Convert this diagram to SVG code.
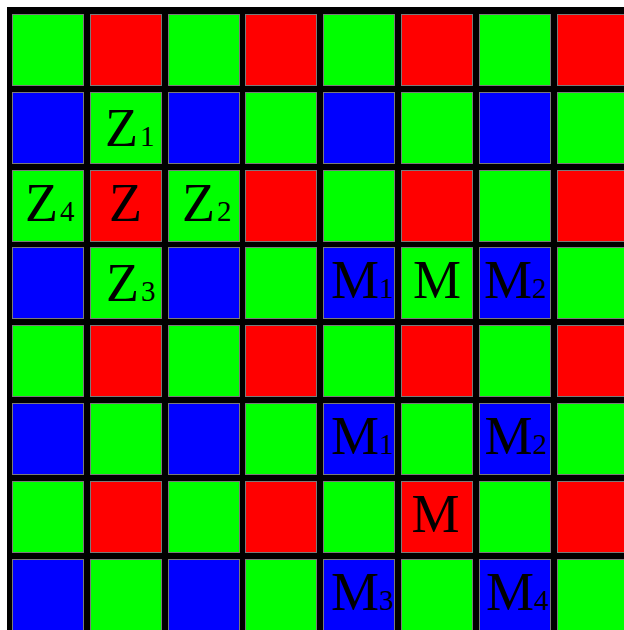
<svg xmlns="http://www.w3.org/2000/svg" width="624" height="630" viewBox="0 0 624 630">
<style>
rect.c{stroke:#7a7a7a;stroke-width:1}
.g{fill:#00ff00}
.r{fill:#ff0000}
.b{fill:#0000ff}
text{font-family:"Liberation Serif","Times New Roman",serif;font-size:54px;fill:#000}
tspan.s{font-size:29px}
</style>
<rect x="0" y="0" width="624" height="630" fill="#ffffff"/>
<rect x="7" y="7" width="617" height="623" fill="#000000"/>
<g id="row0">
<g id="r0c0"><rect class="c g" x="12.5" y="14.5" width="71" height="71"/></g>
<g id="r0c1"><rect class="c r" x="90.5" y="14.5" width="71" height="71"/></g>
<g id="r0c2"><rect class="c g" x="168.5" y="14.5" width="71" height="71"/></g>
<g id="r0c3"><rect class="c r" x="245.5" y="14.5" width="71" height="71"/></g>
<g id="r0c4"><rect class="c g" x="323.5" y="14.5" width="71" height="71"/></g>
<g id="r0c5"><rect class="c r" x="401.5" y="14.5" width="71" height="71"/></g>
<g id="r0c6"><rect class="c g" x="479.5" y="14.5" width="71" height="71"/></g>
<g id="r0c7"><rect class="c r" x="557.5" y="14.5" width="71" height="71"/></g>
</g>
<g id="row1">
<g id="r1c0"><rect class="c b" x="12.5" y="92.5" width="71" height="71"/></g>
<g id="r1c1"><rect class="c g" x="90.5" y="92.5" width="71" height="71"/><text x="105" y="146">Z<tspan class="s" dx="2">1</tspan></text></g>
<g id="r1c2"><rect class="c b" x="168.5" y="92.5" width="71" height="71"/></g>
<g id="r1c3"><rect class="c g" x="245.5" y="92.5" width="71" height="71"/></g>
<g id="r1c4"><rect class="c b" x="323.5" y="92.5" width="71" height="71"/></g>
<g id="r1c5"><rect class="c g" x="401.5" y="92.5" width="71" height="71"/></g>
<g id="r1c6"><rect class="c b" x="479.5" y="92.5" width="71" height="71"/></g>
<g id="r1c7"><rect class="c g" x="557.5" y="92.5" width="71" height="71"/></g>
</g>
<g id="row2">
<g id="r2c0"><rect class="c g" x="12.5" y="170.5" width="71" height="71"/><text x="25" y="221">Z<tspan class="s" dx="2">4</tspan></text></g>
<g id="r2c1"><rect class="c r" x="90.5" y="170.5" width="71" height="71"/><text x="109" y="221">Z</text></g>
<g id="r2c2"><rect class="c g" x="168.5" y="170.5" width="71" height="71"/><text x="182" y="221">Z<tspan class="s" dx="2">2</tspan></text></g>
<g id="r2c3"><rect class="c r" x="245.5" y="170.5" width="71" height="71"/></g>
<g id="r2c4"><rect class="c g" x="323.5" y="170.5" width="71" height="71"/></g>
<g id="r2c5"><rect class="c r" x="401.5" y="170.5" width="71" height="71"/></g>
<g id="r2c6"><rect class="c g" x="479.5" y="170.5" width="71" height="71"/></g>
<g id="r2c7"><rect class="c r" x="557.5" y="170.5" width="71" height="71"/></g>
</g>
<g id="row3">
<g id="r3c0"><rect class="c b" x="12.5" y="247.5" width="71" height="71"/></g>
<g id="r3c1"><rect class="c g" x="90.5" y="247.5" width="71" height="71"/><text x="106" y="301">Z<tspan class="s" dx="2">3</tspan></text></g>
<g id="r3c2"><rect class="c b" x="168.5" y="247.5" width="71" height="71"/></g>
<g id="r3c3"><rect class="c g" x="245.5" y="247.5" width="71" height="71"/></g>
<g id="r3c4"><rect class="c b" x="323.5" y="247.5" width="71" height="71"/><text x="331" y="298">M<tspan class="s" dx="0">1</tspan></text></g>
<g id="r3c5"><rect class="c g" x="401.5" y="247.5" width="71" height="71"/><text x="413" y="297.5">M</text></g>
<g id="r3c6"><rect class="c b" x="479.5" y="247.5" width="71" height="71"/><text x="484" y="297.5">M<tspan class="s" dx="0">2</tspan></text></g>
<g id="r3c7"><rect class="c g" x="557.5" y="247.5" width="71" height="71"/></g>
</g>
<g id="row4">
<g id="r4c0"><rect class="c g" x="12.5" y="325.5" width="71" height="71"/></g>
<g id="r4c1"><rect class="c r" x="90.5" y="325.5" width="71" height="71"/></g>
<g id="r4c2"><rect class="c g" x="168.5" y="325.5" width="71" height="71"/></g>
<g id="r4c3"><rect class="c r" x="245.5" y="325.5" width="71" height="71"/></g>
<g id="r4c4"><rect class="c g" x="323.5" y="325.5" width="71" height="71"/></g>
<g id="r4c5"><rect class="c r" x="401.5" y="325.5" width="71" height="71"/></g>
<g id="r4c6"><rect class="c g" x="479.5" y="325.5" width="71" height="71"/></g>
<g id="r4c7"><rect class="c r" x="557.5" y="325.5" width="71" height="71"/></g>
</g>
<g id="row5">
<g id="r5c0"><rect class="c b" x="12.5" y="403.5" width="71" height="71"/></g>
<g id="r5c1"><rect class="c g" x="90.5" y="403.5" width="71" height="71"/></g>
<g id="r5c2"><rect class="c b" x="168.5" y="403.5" width="71" height="71"/></g>
<g id="r5c3"><rect class="c g" x="245.5" y="403.5" width="71" height="71"/></g>
<g id="r5c4"><rect class="c b" x="323.5" y="403.5" width="71" height="71"/><text x="331" y="453.5">M<tspan class="s" dx="0">1</tspan></text></g>
<g id="r5c5"><rect class="c g" x="401.5" y="403.5" width="71" height="71"/></g>
<g id="r5c6"><rect class="c b" x="479.5" y="403.5" width="71" height="71"/><text x="484.5" y="453.5">M<tspan class="s" dx="0">2</tspan></text></g>
<g id="r5c7"><rect class="c g" x="557.5" y="403.5" width="71" height="71"/></g>
</g>
<g id="row6">
<g id="r6c0"><rect class="c g" x="12.5" y="481.5" width="71" height="71"/></g>
<g id="r6c1"><rect class="c r" x="90.5" y="481.5" width="71" height="71"/></g>
<g id="r6c2"><rect class="c g" x="168.5" y="481.5" width="71" height="71"/></g>
<g id="r6c3"><rect class="c r" x="245.5" y="481.5" width="71" height="71"/></g>
<g id="r6c4"><rect class="c g" x="323.5" y="481.5" width="71" height="71"/></g>
<g id="r6c5"><rect class="c r" x="401.5" y="481.5" width="71" height="71"/><text x="411.5" y="531.5">M</text></g>
<g id="r6c6"><rect class="c g" x="479.5" y="481.5" width="71" height="71"/></g>
<g id="r6c7"><rect class="c r" x="557.5" y="481.5" width="71" height="71"/></g>
</g>
<g id="row7">
<g id="r7c0"><rect class="c b" x="12.5" y="559.5" width="71" height="71"/></g>
<g id="r7c1"><rect class="c g" x="90.5" y="559.5" width="71" height="71"/></g>
<g id="r7c2"><rect class="c b" x="168.5" y="559.5" width="71" height="71"/></g>
<g id="r7c3"><rect class="c g" x="245.5" y="559.5" width="71" height="71"/></g>
<g id="r7c4"><rect class="c b" x="323.5" y="559.5" width="71" height="71"/><text x="331" y="609.5">M<tspan class="s" dx="0">3</tspan></text></g>
<g id="r7c5"><rect class="c g" x="401.5" y="559.5" width="71" height="71"/></g>
<g id="r7c6"><rect class="c b" x="479.5" y="559.5" width="71" height="71"/><text x="486" y="609.5">M<tspan class="s" dx="0">4</tspan></text></g>
<g id="r7c7"><rect class="c g" x="557.5" y="559.5" width="71" height="71"/></g>
</g>
</svg>
